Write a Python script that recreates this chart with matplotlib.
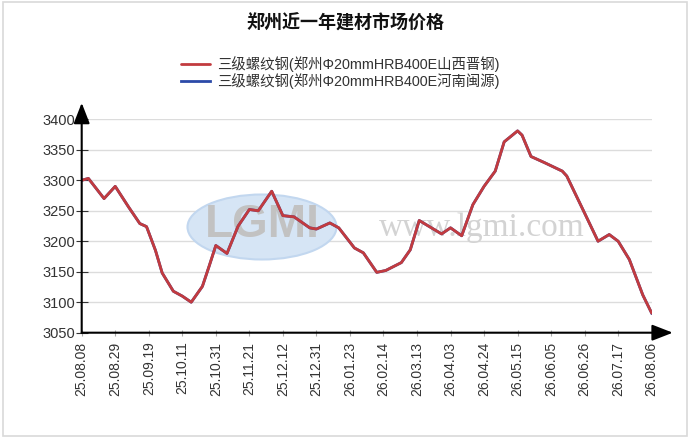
import matplotlib
matplotlib.use("Agg")
import matplotlib.pyplot as plt
from matplotlib.patches import Ellipse, Rectangle

plt.rcParams['font.family'] = ['Liberation Sans', 'Noto Sans CJK SC']

# trading-day index (15 trading days per date label) and price
day_idx = [0, 3, 10, 15, 21, 26, 29, 33, 36, 41, 45, 49, 54, 57, 60, 65, 70, 75, 79,
           85, 90, 95, 102, 105, 111, 115, 122, 126, 132, 136, 143, 147, 151, 161,
           165, 170, 175, 180, 185, 189, 195, 197, 201, 207, 215, 217, 225, 231,
           236, 240, 245, 251, 255]
jingang_price = [3300, 3303, 3270, 3290, 3256, 3229, 3224, 3185, 3148, 3118, 3110,
                 3100, 3126, 3159, 3193, 3180, 3225, 3252, 3250, 3282, 3242, 3240,
                 3222, 3220, 3230, 3222, 3189, 3181, 3149, 3152, 3165, 3186, 3234,
                 3212, 3222, 3209, 3260, 3290, 3315, 3363, 3381, 3374, 3339, 3329,
                 3315, 3307, 3246, 3200, 3211, 3200, 3170, 3112, 3082]
# the second series lies exactly under the first one in the picture
minyuan_price = list(jingang_price)

date_labels = ["25.08.08", "25.08.29", "25.09.19", "25.10.11", "25.10.31", "25.11.21",
               "25.12.12", "25.12.31", "26.01.23", "26.02.14", "26.03.13", "26.04.03",
               "26.04.24", "26.05.15", "26.06.05", "26.06.26", "26.07.17", "26.08.06"]
label_step = 15
y_ticks = [3050, 3100, 3150, 3200, 3250, 3300, 3350, 3400]

series_names = ["三级螺纹钢(郑州Φ20mmHRB400E山西晋钢)",
                "三级螺纹钢(郑州Φ20mmHRB400E河南闽源)"]

fig = plt.figure(figsize=(6.92, 4.42), dpi=100)
fig.patch.set_facecolor("white")
fig.patches.append(Rectangle((3 / 692, 1 - 436 / 442), 684 / 692, 434 / 442,
                             transform=fig.transFigure, fill=False,
                             edgecolor="#d9d9d9", lw=1.2))

ax = fig.add_axes([81.7 / 692, 1 - 332.7 / 442, 570 / 692, 213.4 / 442])

# watermark
ax.add_patch(Ellipse((262 / 692, 1 - 227 / 442), 149 / 692, 65 / 442,
                     transform=fig.transFigure, facecolor="#d6e5f5",
                     edgecolor="#c2d7ef", lw=1.5, zorder=1.2, clip_on=False))
ax.text(262 / 692, 1 - 225 / 442, "LGMI", transform=fig.transFigure,
        fontsize=33, fontweight="bold", color="#c2c2c2", ha="center",
        va="center", zorder=1.3)
ax.text(482 / 692, 1 - 228 / 442, "www.lgmi.com", transform=fig.transFigure,
        family="Liberation Serif", fontsize=24, color="#d3d3d3", ha="center",
        va="center", zorder=1.3)

l2, = ax.plot(day_idx, minyuan_price, color="#2b4aa8", lw=2.0, zorder=2,
              solid_joinstyle="round")
l1, = ax.plot(day_idx, jingang_price, color="#c23b3f", lw=2.0, zorder=3,
              solid_joinstyle="round", solid_capstyle="round")

ax.set_xlim(0, label_step * (len(date_labels) - 1))
ax.set_ylim(3050, 3400)
ax.set_xticks([i * label_step for i in range(len(date_labels))])
ax.set_xticklabels(date_labels, rotation=90)
ax.set_yticks(y_ticks)
ax.grid(axis="y", color="#dcdcdc", lw=1)
ax.set_axisbelow(True)
for s in ax.spines.values():
    s.set_visible(False)
ax.tick_params(axis="x", direction="inout", length=5, color="#aaaaaa",
               labelsize=10, labelcolor="#333333", pad=4)
ax.tick_params(axis="y", direction="inout", length=8, color="#333333",
               labelsize=10.5, labelcolor="#333333", pad=1)

arrow = dict(arrowstyle="-|>,head_length=0.9,head_width=0.35", color="black",
             lw=1.5, mutation_scale=14, shrinkA=0, shrinkB=0)
ax.annotate("", xy=(1.037, 0), xytext=(0, 0), xycoords="axes fraction",
            arrowprops=arrow)
ax.annotate("", xy=(0, 1.077), xytext=(0, 0), xycoords="axes fraction",
            arrowprops=arrow)

fig.text(345 / 692, 1 - 23 / 442, "郑州近一年建材市场价格", ha="center", va="center",
         fontsize=13, fontweight="bold", color="#111111")

fig.legend([l1, l2], series_names, loc="upper center",
           bbox_to_anchor=(340 / 692, 1 - 50 / 442), frameon=False,
           fontsize=10.4, handlelength=2.0, handletextpad=0.5, labelspacing=0.1,
           borderaxespad=0, labelcolor="#333333")

fig.savefig("out.png", dpi=100)
